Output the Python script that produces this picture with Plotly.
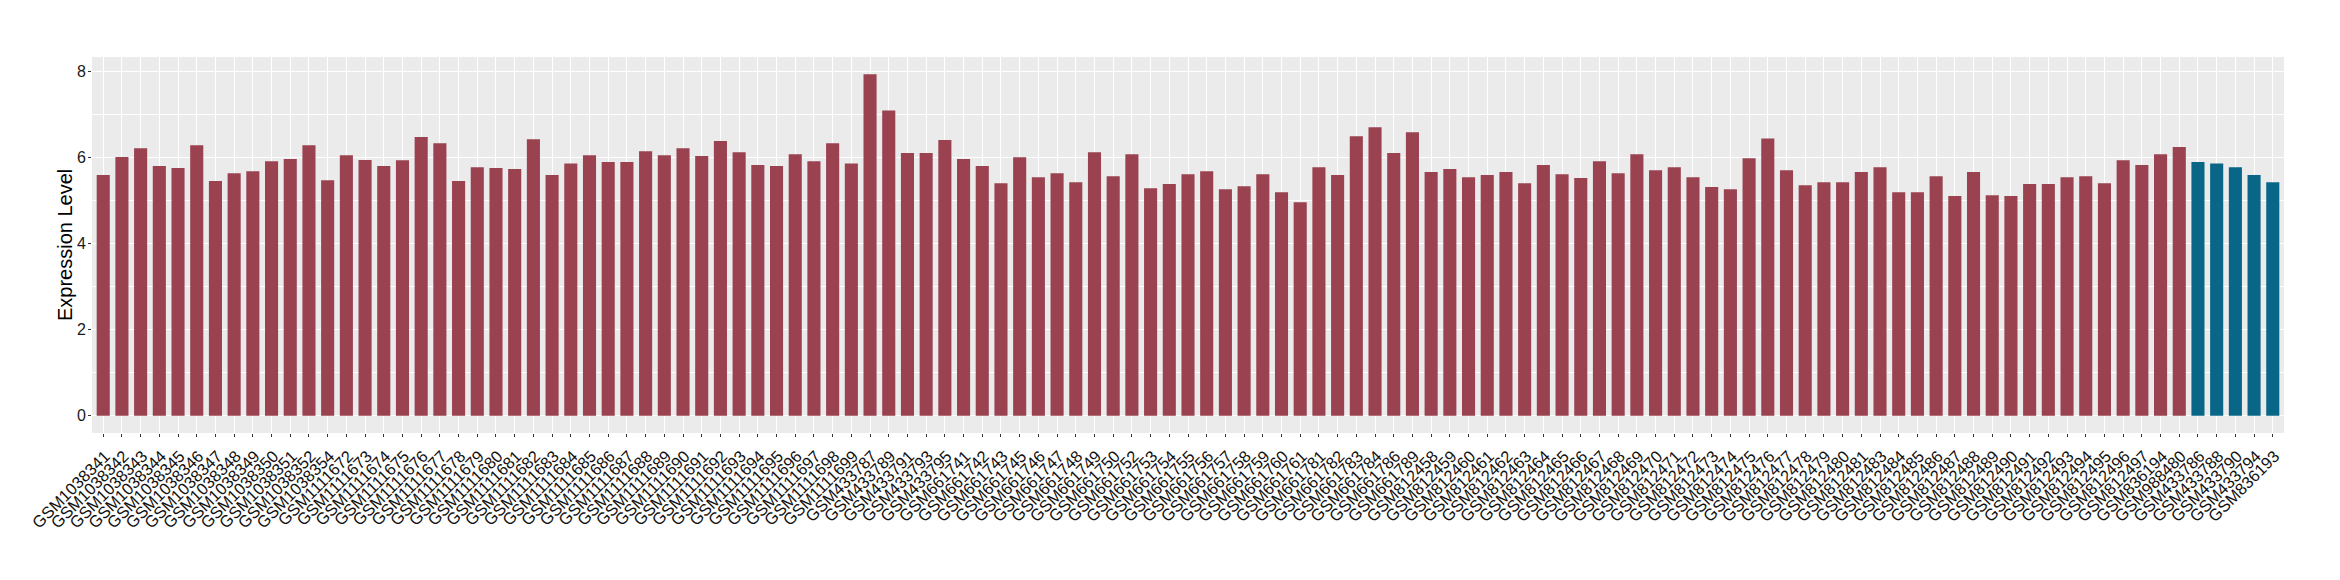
import plotly.graph_objects as go

# sample ids, in plotting order
amostras = (
    [f"GSM10383{n}" for n in [41, 42, 43, 44, 45, 46, 47, 48, 49, 50, 51, 52, 54]]
    + [f"GSM11116{n}" for n in range(72, 100)]
    + ["GSM433787", "GSM433789", "GSM433791", "GSM433793", "GSM433795"]
    + [f"GSM661{n}" for n in [741, 742, 743, 745, 746, 747, 748, 749, 750, 752, 753,
                              754, 755, 756, 757, 758, 759, 760, 761, 781, 782, 783,
                              784, 786, 789]]
    + [f"GSM812{n}" for n in list(range(458, 482)) + list(range(483, 498))]
    + ["GSM836194", "GSM988480"]
    + ["GSM433786", "GSM433788", "GSM433790", "GSM433794", "GSM836193"]
)

# expression values
expressao = [
    5.59, 6.01, 6.21, 5.80, 5.75, 6.28, 5.45, 5.63, 5.68, 5.91, 5.96, 6.28, 5.47,
    6.05, 5.94, 5.80, 5.93, 6.47, 6.33, 5.45, 5.77, 5.75, 5.73, 6.42, 5.59, 5.86,
    6.05, 5.89, 5.89, 6.14, 6.05, 6.21, 6.03, 6.38, 6.12, 5.82, 5.80, 6.07, 5.91,
    6.33, 5.86,
    7.93, 7.09, 6.10, 6.10, 6.40,
    5.96, 5.80, 5.40, 6.00, 5.54, 5.63, 5.42, 6.12, 5.56, 6.07, 5.28, 5.38, 5.61,
    5.68, 5.26, 5.33, 5.61, 5.19, 4.96, 5.77, 5.59, 6.49, 6.70, 6.10, 6.58,
    5.66, 5.73, 5.54, 5.59, 5.66, 5.40, 5.82, 5.61, 5.52, 5.91, 5.63, 6.07, 5.70,
    5.77, 5.54, 5.31, 5.26, 5.98, 6.44, 5.70, 5.35, 5.42, 5.42, 5.66, 5.77, 5.19,
    5.19, 5.56, 5.10, 5.66, 5.12, 5.10, 5.38, 5.38, 5.54, 5.56, 5.40, 5.93, 5.82,
    6.07, 6.24,
    5.89, 5.86, 5.77, 5.59, 5.42,
]

# group of each sample
grupos = ["A"] * 112 + ["B"] * 5

cores = {"A": "#9A4250", "B": "#0A6687"}

fig = go.Figure(
    go.Bar(
        x=amostras,
        y=expressao,
        width=0.7,
        marker=dict(color=[cores[g] for g in grupos], line=dict(width=0)),
        showlegend=False,
    )
)

# page body adds 8px, so margins are shifted by that
fig.update_layout(
    width=2340,
    height=580,
    paper_bgcolor="white",
    plot_bgcolor="#EBEBEB",
    margin=dict(l=84, r=64, t=49, b=155),
    font=dict(family="Liberation Sans, Arial", color="#1a1a1a"),
    bargap=0.3,
    xaxis=dict(
        type="category",
        range=[-0.6, len(amostras) - 0.4],
        tickmode="array",
        tickvals=amostras,
        ticktext=amostras,
        tickangle=-45,
        tickfont=dict(size=16.5, color="#111111"),
        ticks="outside",
        ticklen=3,
        tickcolor="#333333",
        ticklabelstandoff=3,
        ticklabelshift=2,
        showgrid=True,
        gridcolor="white",
        gridwidth=1.2,
        showline=False,
        zeroline=False,
        automargin=False,
    ),
    yaxis=dict(
        range=[-0.4, 8.33],
        tickmode="array",
        tickvals=[0, 2, 4, 6, 8],
        tickfont=dict(size=16, color="#1a1a1a"),
        ticks="outside",
        ticklen=3,
        tickcolor="#333333",
        ticklabelstandoff=-1,
        showgrid=True,
        gridcolor="white",
        gridwidth=1.3,
        minor=dict(tickvals=[1, 3, 5, 7], showgrid=True, gridcolor="white",
                   gridwidth=0.6, ticks=""),
        zeroline=False,
        showline=False,
        automargin=False,
    ),
)

# y title placed by hand, close to the tick labels like the original
fig.add_annotation(
    text="Expression Level",
    xref="paper", yref="paper",
    x=0, y=0.5,
    xshift=-27,
    xanchor="center", yanchor="middle",
    textangle=-90,
    showarrow=False,
    font=dict(size=20, color="#000000"),
)

fig.write_html("out.html")
